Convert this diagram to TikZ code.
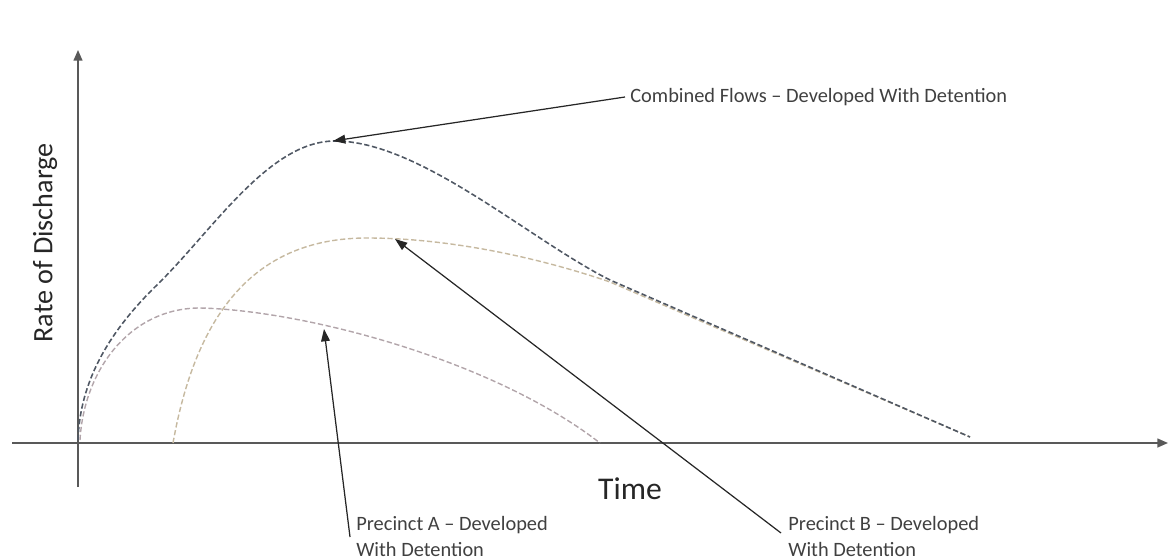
\documentclass[tikz,border=0pt]{standalone}
\usepackage{fontspec}
\setmainfont{Carlito}
\usetikzlibrary{arrows.meta}
\definecolor{combc}{RGB}{80,88,100}
\definecolor{acol}{RGB}{178,165,170}
\definecolor{bcol}{RGB}{198,185,160}
\begin{document}
\begin{tikzpicture}[x=0.02cm,y=-0.02cm,
  axis/.style={draw=black!65,line width=0.9pt},
  pointer/.style={draw=black!85,line width=0.7pt,-{Triangle[length=7pt,width=5pt]}},
  combined/.style={draw=combc,line width=0.9pt,dash pattern=on 3pt off 1.5pt},
  curveA/.style={draw=acol,line width=0.8pt,dash pattern=on 3pt off 1.5pt},
  curveB/.style={draw=bcol,line width=0.8pt,dash pattern=on 3pt off 1.5pt},
  lbl/.style={font=\fontsize{11.6}{13}\selectfont,text=black!75,align=left,anchor=west,inner sep=0pt}]
\useasboundingbox (0,0) rectangle (1175,560);
% axes
\coordinate (xs) at (12,443);
\coordinate (xe) at (1168,443);
\coordinate (ys) at (78,487);
\coordinate (ye) at (78,50);
\draw[axis,-{Triangle[length=6pt,width=5pt]}] (xs) -- (xe);
\draw[axis,-{Triangle[length=6pt,width=5pt]}] (ys) -- (ye);
% axis labels
\node[font=\fontsize{18}{20}\selectfont,text=black!85] (time) at (630,489) {Time};
\node[font=\fontsize{16}{18}\selectfont,text=black!85,rotate=90] (rate) at (45,243) {Rate of Discharge};
% curves
\draw[curveA] (80,440) .. controls (84,370) and (130,308) .. (200,308)
  .. controls (300,310) and (490,358) .. (600,443);
\draw[curveB] (173,443) .. controls (195,320) and (250,238) .. (367,238)
  .. controls (450,238) and (540,258) .. (610,282) -- (970,437);
\draw[combined] (78,440) .. controls (80,380) and (110,330) .. (160,282)
  .. controls (215,227) and (270,141) .. (335,141)
  .. controls (420,141) and (530,240) .. (610,280) -- (970,437);
% pointer targets
\coordinate (pc) at (333,141);
\coordinate (pa) at (324,329);
\coordinate (pb) at (395,239);
% labels
\node[lbl] (lc) at (630,97) {Combined Flows – Developed With Detention};
\node[lbl,anchor=north west] (la) at (356,516) {Precinct A – Developed\\[2pt]With Detention};
\node[lbl,anchor=north west] (lb) at (788,516) {Precinct B – Developed\\[2pt]With Detention};
% pointers
\draw[pointer] (lc.west) ++(-5,0) -- (pc);
\draw[pointer] (350,537) -- (pa);
\draw[pointer] (781,533) -- (pb);
\end{tikzpicture}
\end{document}
